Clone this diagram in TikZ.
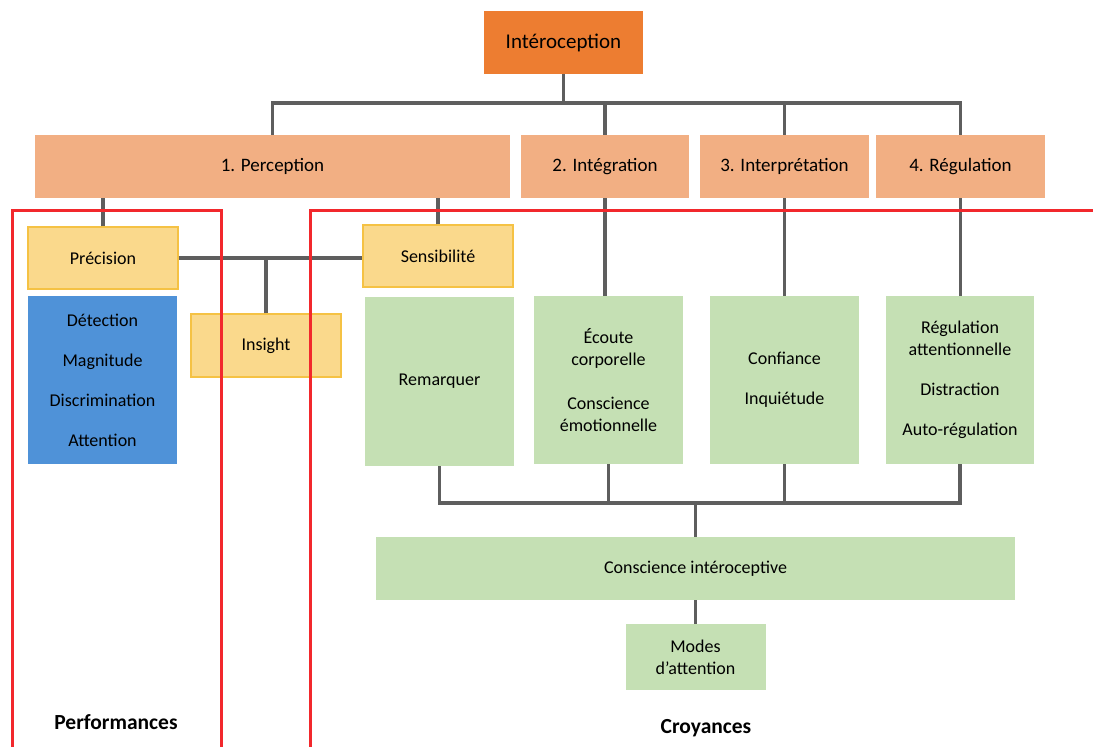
\documentclass[tikz,border=0pt]{standalone}
\usepackage{fontspec}
\setmainfont{Carlito}
\usetikzlibrary{calc}
\definecolor{topcol}{HTML}{ED7D31}
\definecolor{phasecol}{HTML}{F2AF83}
\definecolor{facetcol}{HTML}{FAD98C}
\definecolor{facetline}{HTML}{F5C244}
\definecolor{perfcol}{HTML}{4F92D8}
\definecolor{beliefcol}{HTML}{C5E0B4}
\definecolor{linkcol}{HTML}{5E5E5E}
\definecolor{framecol}{HTML}{F2282C}

\begin{document}
\begin{tikzpicture}[
      x=1pt, y=-1pt,
      txt/.style={font=\fontsize{18}{22}\selectfont, text=black, align=center, inner sep=0pt},
      mainbox/.style={txt, fill=topcol, font=\fontsize{21}{25}\selectfont, minimum width=159pt, minimum height=63pt},
      phase/.style={txt, fill=phasecol, font=\fontsize{19}{23}\selectfont, minimum width=169pt, minimum height=63pt},
      facet/.style={txt, fill=facetcol, draw=facetline, line width=1.4pt, minimum width=150pt, minimum height=62pt},
      perfbox/.style={txt, fill=perfcol, minimum width=149pt, minimum height=168pt},
      belief/.style={txt, fill=beliefcol, minimum width=149pt, minimum height=168pt},
      link/.style={draw=linkcol, line width=3.2pt},
      frontier/.style={draw=framecol, line width=3pt},
      zonelabel/.style={font=\bfseries\fontsize{21.5}{25}\selectfont, text=black, inner sep=0pt}
    ]
    \useasboundingbox (0,0) rectangle (1093,747);
    % Draw the top level and the four phases.
    \node[mainbox] (intero) at (563.5,42.5) {Intéroception};
    \node[phase, minimum width=475pt] (percep) at (272.5,166.5) {1. Perception};
    \node[phase, minimum width=168pt] (integ) at (605,166.5) {2. Intégration};
    \node[phase] (interp) at (784.5,166.5) {3. Interprétation};
    \node[phase] (regul) at (960.5,166.5) {4. Régulation};
    % Draw the facets of perception.
    \node[facet] (precision) at (103,258) {Précision};
    \node[facet] (sensib) at (438,256) {Sensibilité};
    \node[facet, minimum height=63pt] (insight) at (266,345.5) {Insight};
    \node[perfbox] (perf) at (102.5,380) {Détection\\[18pt]Magnitude\\[18pt]Discrimination\\[18pt]Attention};
    % Draw the beliefs.
    \node[belief, minimum height=169pt] (remarq) at (439.5,381.5) {Remarquer};
    \node[belief] (ecoute) at (608.5,380) {Écoute\\corporelle\\[22pt]Conscience\\émotionnelle};
    \node[belief] (confiance) at (784.5,380) {Confiance\\[18pt]Inquiétude};
    \node[belief, minimum width=148pt] (autoreg) at (960,380) {Régulation\\attentionnelle\\[18pt]Distraction\\[18pt]Auto-régulation};
    \node[belief, minimum width=639pt, minimum height=63pt] (consc) at (695.5,568.5) {Conscience intéroceptive};
    \node[belief, minimum width=140pt, minimum height=66pt] (modes) at (695.5,657) {Modes\\d’attention};
    % Draw the connectors.
    \coordinate (top bus) at (563.5,103);
    \coordinate (low bus) at (695.5,503);
    \draw[link] (intero.south) -- (top bus);
    \draw[link] (percep.north) |- (top bus) -| (regul.north);
    \foreach \ph in {integ,interp}
      \draw[link] (\ph.north) -- (\ph.north |- top bus);
    \draw[link] (precision.north) -- (precision.north |- percep.south);
    \draw[link] (sensib.north) -- (sensib.north |- percep.south);
    \draw[link] (precision.east) -- (precision.east -| sensib.west);
    \draw[link] (insight.north) -- (insight.north |- precision.east);
    \draw[link] (integ.south) -- (integ.south |- ecoute.north);
    \draw[link] (interp.south) -- (confiance.north);
    \draw[link] (regul.south) -- (regul.south |- autoreg.north);
    \draw[link] (remarq.south) |- (low bus) -| (autoreg.south);
    \foreach \bl in {ecoute,confiance}
      \draw[link] (\bl.south) -- (\bl.south |- low bus);
    \draw[link] (low bus) -- (consc.north);
    \draw[link] (consc.south) -- (modes.north);
    % Draw the two zones.
    \draw[frontier] (12,760) -- (12,210) -- (221,210) -- (221,760);
    \draw[frontier] (310,760) -- (310,210) -- (1100,210);
    \node[zonelabel] (perflabel) at (116,722) {Performances};
    \node[zonelabel] (belieflabel) at (706,728) {Croyances};
\end{tikzpicture}
\end{document}
